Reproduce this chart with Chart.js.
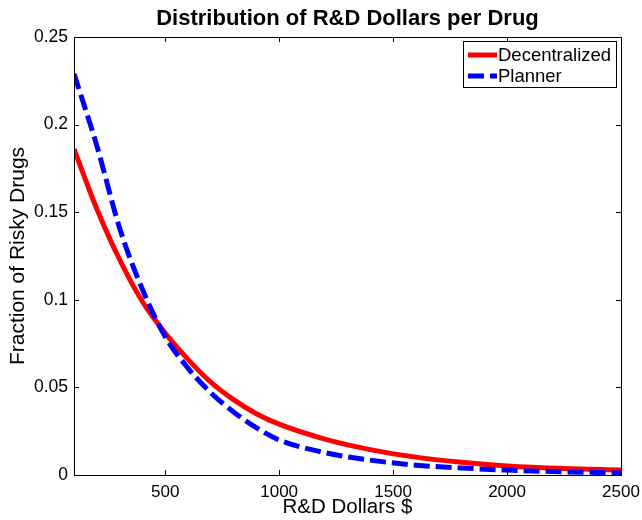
<!DOCTYPE html>
<html>
<head>
<meta charset="utf-8">
<title>Distribution of R&amp;D Dollars per Drug</title>
<script src="https://cdn.jsdelivr.net/npm/chart.js@4.4.0/dist/chart.umd.min.js"></script>
<style>
  html, body { margin: 0; padding: 0; background: #fff; overflow: hidden; }
  canvas { display: block; }
</style>
</head>
<body>
<canvas id="rd-chart" width="642" height="520"></canvas>
<script>
// values
const rdDollars = [100, 200, 300, 400, 500, 600, 700, 800, 900, 1000, 1200, 1400, 1600, 1800, 2000, 2250, 2500];
const decentralized = [0.186, 0.152, 0.123, 0.099, 0.081, 0.066, 0.053, 0.043, 0.035, 0.029, 0.0205, 0.0145, 0.0102, 0.0073, 0.0052, 0.0037, 0.0029];
const planner = [0.229, 0.188, 0.141, 0.106, 0.079, 0.061, 0.047, 0.036, 0.027, 0.020, 0.0128, 0.0085, 0.0056, 0.0040, 0.0028, 0.0018, 0.0012];

const xTicks = [500, 1000, 1500, 2000, 2500];
const xTickLabels = ['500', '1000', '1500', '2000', '2500'];
const yTicks = [0, 0.05, 0.1, 0.15, 0.2, 0.25];
const yTickLabels = ['0', '0.05', '0.1', '0.15', '0.2', '0.25'];

const chartTitle = 'Distribution of R&D Dollars per Drug';
const xTitle = 'R&D Dollars $';
const yTitle = 'Fraction of Risky Drugs';

const FONT = '"Liberation Sans", Arial, Helvetica, sans-serif';

function toPoints(ys) {
    return rdDollars.map((x, i) => ({ x: x, y: ys[i] }));
}

// matlab style box: frame on all sides, ticks pointing inwards
const boxAxesPlugin = {
    id: 'boxAxes',
    afterDatasetsDraw(chart) {
        const { ctx, chartArea: a, scales } = chart;
        const len = 5;
        ctx.save();
        ctx.strokeStyle = '#000';
        ctx.lineWidth = 1;
        ctx.beginPath();
        xTicks.forEach(v => {
            const px = Math.round(scales.x.getPixelForValue(v)) + 0.5;
            ctx.moveTo(px, a.bottom); ctx.lineTo(px, a.bottom - len);
            ctx.moveTo(px, a.top); ctx.lineTo(px, a.top + len);
        });
        yTicks.forEach(v => {
            const py = Math.round(scales.y.getPixelForValue(v)) + 0.5;
            ctx.moveTo(a.left, py); ctx.lineTo(a.left + len, py);
            ctx.moveTo(a.right, py); ctx.lineTo(a.right - len, py);
        });
        ctx.stroke();
        ctx.strokeRect(Math.round(a.left) + 0.5, Math.round(a.top) + 0.5,
            Math.round(a.right - a.left), Math.round(a.bottom - a.top));
        ctx.restore();
    },
    afterDraw(chart) {
        const { ctx, chartArea: a } = chart;
        ctx.save();
        // title centred over the plot box
        ctx.fillStyle = '#000';
        ctx.font = 'bold 22px ' + FONT;
        ctx.textAlign = 'center';
        ctx.textBaseline = 'alphabetic';
        ctx.fillText(chartTitle, (a.left + a.right) / 2, 25);

        // legend box in the top right corner
        const box = { x: 463.5, y: 41.5, w: 153, h: 46 };
        ctx.fillStyle = '#fff';
        ctx.fillRect(box.x, box.y, box.w, box.h);
        ctx.strokeStyle = '#000';
        ctx.lineWidth = 1;
        ctx.strokeRect(box.x, box.y, box.w, box.h);

        const entries = [chart.data.datasets[1], chart.data.datasets[0]];
        entries.forEach((ds, i) => {
            const y = 55 + i * 21;
            ctx.beginPath();
            ctx.strokeStyle = ds.borderColor;
            ctx.lineWidth = ds.borderWidth;
            ctx.setLineDash(ds.borderDash || []);
            ctx.moveTo(468, y);
            ctx.lineTo(497, y);
            ctx.stroke();
            ctx.setLineDash([]);
            ctx.fillStyle = '#000';
            ctx.font = '18.5px ' + FONT;
            ctx.textAlign = 'left';
            ctx.fillText(ds.label, 498, y + 5.5);
        });
        ctx.restore();
    }
};

Chart.defaults.color = '#000';
Chart.defaults.font.family = FONT;

const ctx = document.getElementById('rd-chart').getContext('2d');
const chart = new Chart(ctx, {
    type: 'scatter',
    data: {
        datasets: [
            {
                label: 'Planner',
                data: toPoints(planner),
                showLine: true,
                borderColor: '#0000ff',
                borderWidth: 5,
                borderDash: [16, 6],
                pointRadius: 0,
                cubicInterpolationMode: 'monotone',
                fill: false
            },
            {
                label: 'Decentralized',
                data: toPoints(decentralized),
                showLine: true,
                borderColor: '#ff0000',
                borderWidth: 5,
                pointRadius: 0,
                cubicInterpolationMode: 'monotone',
                fill: false
            }
        ]
    },
    options: {
        responsive: false,
        devicePixelRatio: 1,
        animation: false,
        layout: { padding: { top: 37, right: 21, left: 0, bottom: 0 } },
        plugins: {
            legend: { display: false },
            title: { display: false },
            tooltip: { enabled: false }
        },
        scales: {
            x: {
                type: 'linear',
                min: 100,
                max: 2500,
                afterBuildTicks: scale => { scale.ticks = xTicks.map(v => ({ value: v })); },
                afterFit: scale => {
                    scale.height = 45;
                    scale.paddingLeft = 0;
                    scale.paddingRight = 0;
                },
                grid: { display: false, drawTicks: false },
                border: { display: false },
                ticks: {
                    padding: 7,
                    maxRotation: 0,
                    autoSkip: false,
                    font: { size: 17 },
                    callback: (v, i) => xTickLabels[i]
                },
                title: {
                    display: true,
                    text: xTitle,
                    font: { size: 20.5 },
                    padding: { top: 0, bottom: 0 }
                }
            },
            y: {
                type: 'linear',
                min: 0,
                max: 0.25,
                afterBuildTicks: scale => { scale.ticks = yTicks.map(v => ({ value: v })); },
                afterFit: scale => {
                    scale.width = 74;
                    scale.paddingTop = 0;
                    scale.paddingBottom = 0;
                },
                grid: { display: false, drawTicks: false },
                border: { display: false },
                ticks: {
                    padding: 6,
                    autoSkip: false,
                    font: { size: 17.5 },
                    callback: (v, i) => yTickLabels[i]
                },
                title: {
                    display: true,
                    text: yTitle,
                    font: { size: 21 },
                    padding: { top: 6, bottom: 0 }
                }
            }
        }
    },
    plugins: [boxAxesPlugin]
});
</script>
</body>
</html>
